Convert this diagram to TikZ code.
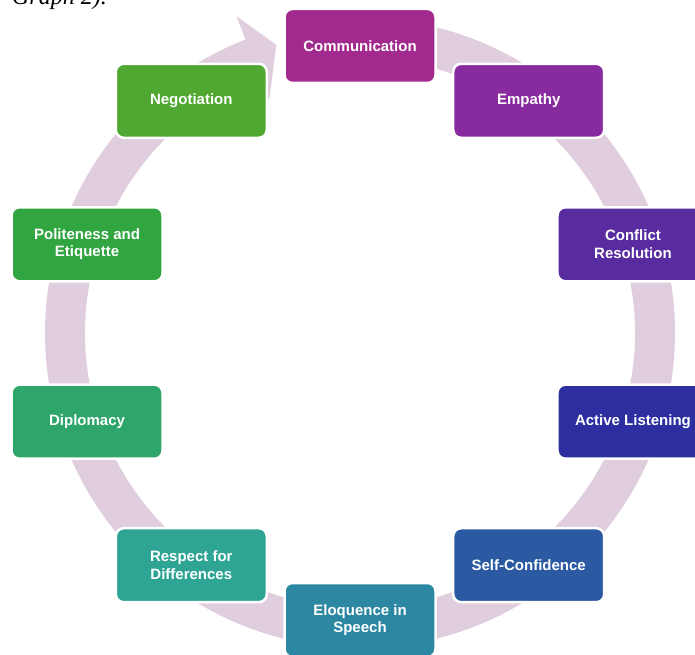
\documentclass[tikz,border=0pt]{standalone}
\usepackage{fontspec}
\setmainfont{Liberation Sans}
\newfontfamily\serifit{Liberation Serif}
\usetikzlibrary{calc}
\definecolor{ringc}{RGB}{224,206,222}
\definecolor{c1}{RGB}{162,42,142}
\definecolor{c2}{RGB}{135,43,158}
\definecolor{c3}{RGB}{88,44,158}
\definecolor{c4}{RGB}{45,47,160}
\definecolor{c5}{RGB}{43,90,163}
\definecolor{c6}{RGB}{44,136,162}
\definecolor{c7}{RGB}{46,165,148}
\definecolor{c8}{RGB}{46,165,106}
\definecolor{c9}{RGB}{48,165,64}
\definecolor{c10}{RGB}{80,168,50}
\tikzset{
  stepbox/.style={rounded corners=8pt, draw=white, line width=2.5pt,
    minimum width=151pt, minimum height=74pt, align=center,
    text=white, font=\fontsize{15}{17.5}\selectfont\bfseries, inner sep=2pt}
}
\begin{document}
\begin{tikzpicture}[x=1pt,y=1pt]
\useasboundingbox (0,0) rectangle (695,654);
\clip (0,0) rectangle (695,654);
\fill[white] (0,0) rectangle (695,654);
\coordinate (C) at (360,321);
% caption fragment at top (cut off by the page edge, as in the reference)
\node[anchor=base east, inner sep=0pt, font=\serifit\itshape\fontsize{24}{24}\selectfont] (cap) at (107,649.5) {Graph 2).};
% ring arrow
\fill[ringc] ($(C)+(90:315pt)$) arc[start angle=90, end angle=-248.7, radius=315pt]
  -- ($(C)+(111.3:340pt)$) -- ($(C)+(106.2:300pt)$) -- ($(C)+(111.3:250pt)$)
  -- ($(C)+(111.3:275pt)$) arc[start angle=-248.7, end angle=90, radius=275pt] -- cycle;
% nodes
\node[stepbox, fill=c1]  (n1)  at ($(C)+(90:287pt)$)  {Communication};
\node[stepbox, fill=c2]  (n2)  at ($(C)+(54:287pt)$)  {Empathy};
\node[stepbox, fill=c3]  (n3)  at ($(C)+(18:287pt)$)  {Conflict\\Resolution};
\node[stepbox, fill=c4]  (n4)  at ($(C)+(-18:287pt)$) {Active Listening};
\node[stepbox, fill=c5]  (n5)  at ($(C)+(-54:287pt)$) {Self-Confidence};
\node[stepbox, fill=c6]  (n6)  at ($(C)+(-90:287pt)$) {Eloquence in\\Speech};
\node[stepbox, fill=c7]  (n7)  at ($(C)+(-126:287pt)$) {Respect for\\Differences};
\node[stepbox, fill=c8]  (n8)  at ($(C)+(-162:287pt)$) {Diplomacy};
\node[stepbox, fill=c9]  (n9)  at ($(C)+(162:287pt)$) {Politeness and\\Etiquette};
\node[stepbox, fill=c10] (n10) at ($(C)+(126:287pt)$) {Negotiation};
\end{tikzpicture}
\end{document}
